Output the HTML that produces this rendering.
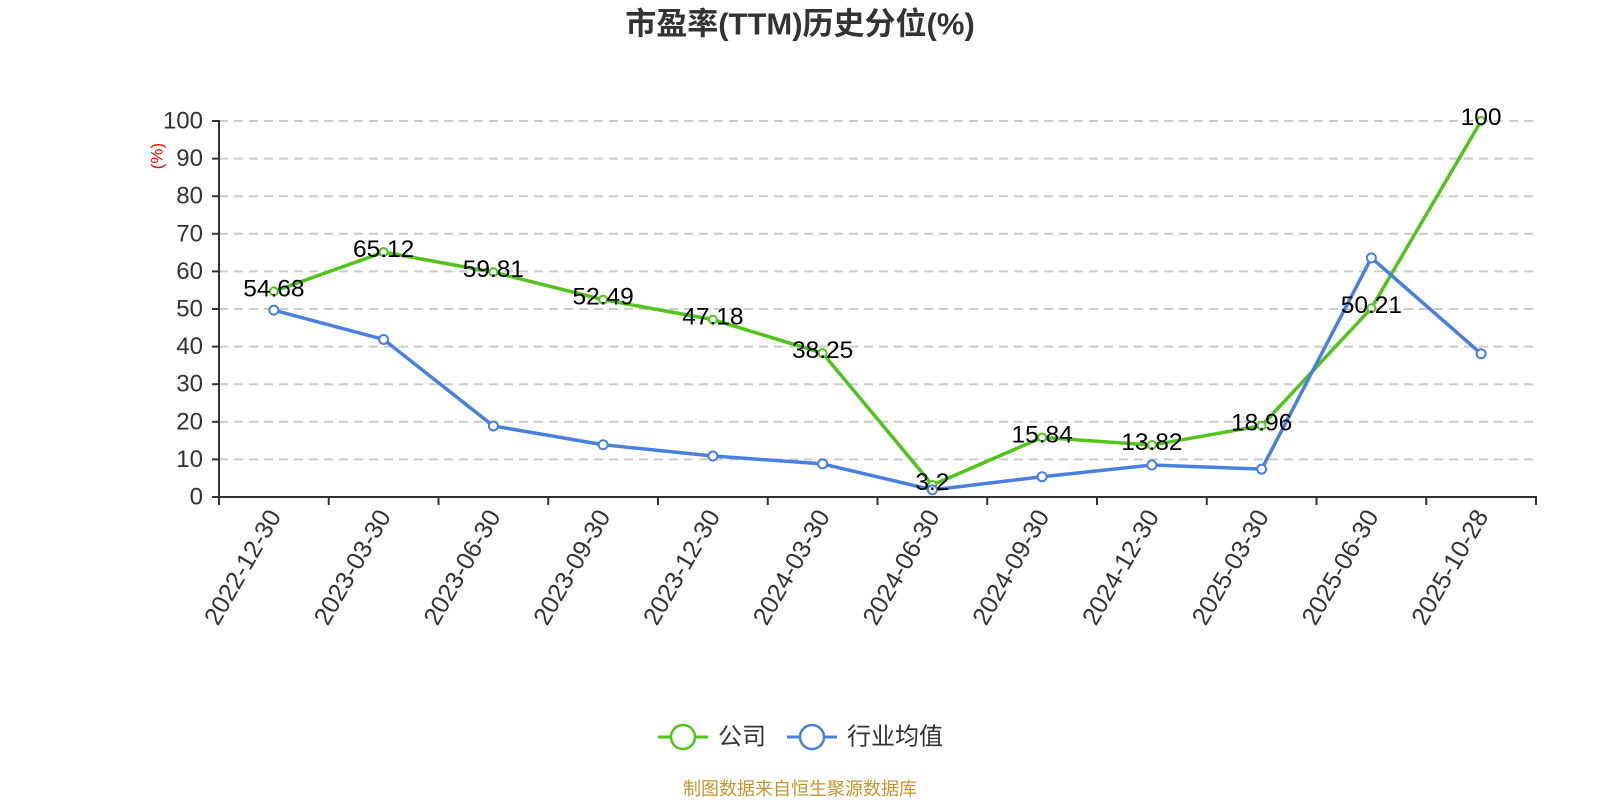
<!DOCTYPE html>
<html>
<head>
<meta charset="utf-8">
<style>
html,body{margin:0;padding:0;background:#fff;}
svg{display:block;}
text{font-family:"Liberation Sans","Noto Sans CJK SC",sans-serif;}
</style>
</head>
<body>
<svg width="1600" height="800" viewBox="0 0 1600 800" xmlns="http://www.w3.org/2000/svg">
  <rect width="1600" height="800" fill="#fff"/>
  <!-- title -->
  <text x="800" y="24" font-size="31" font-weight="bold" fill="#333" text-anchor="middle" dominant-baseline="central">市盈率(TTM)历史分位(%)</text>

  <!-- gridlines -->
  <g stroke="#ccc" stroke-width="2" stroke-dasharray="9,6">
    <line x1="219" y1="459.4" x2="1536" y2="459.4"/>
    <line x1="219" y1="421.8" x2="1536" y2="421.8"/>
    <line x1="219" y1="384.2" x2="1536" y2="384.2"/>
    <line x1="219" y1="346.6" x2="1536" y2="346.6"/>
    <line x1="219" y1="309" x2="1536" y2="309"/>
    <line x1="219" y1="271.4" x2="1536" y2="271.4"/>
    <line x1="219" y1="233.8" x2="1536" y2="233.8"/>
    <line x1="219" y1="196.2" x2="1536" y2="196.2"/>
    <line x1="219" y1="158.6" x2="1536" y2="158.6"/>
    <line x1="219" y1="121" x2="1536" y2="121"/>
  </g>

  <!-- y axis -->
  <g stroke="#333" stroke-width="2">
    <line x1="219" y1="120" x2="219" y2="498"/>
    <line x1="212" y1="497" x2="219" y2="497"/>
    <line x1="212" y1="459.4" x2="219" y2="459.4"/>
    <line x1="212" y1="421.8" x2="219" y2="421.8"/>
    <line x1="212" y1="384.2" x2="219" y2="384.2"/>
    <line x1="212" y1="346.6" x2="219" y2="346.6"/>
    <line x1="212" y1="309" x2="219" y2="309"/>
    <line x1="212" y1="271.4" x2="219" y2="271.4"/>
    <line x1="212" y1="233.8" x2="219" y2="233.8"/>
    <line x1="212" y1="196.2" x2="219" y2="196.2"/>
    <line x1="212" y1="158.6" x2="219" y2="158.6"/>
    <line x1="212" y1="121" x2="219" y2="121"/>
  </g>
  <g font-size="24" fill="#333" text-anchor="end" dominant-baseline="central">
    <text x="203" y="497">0</text>
    <text x="203" y="459.4">10</text>
    <text x="203" y="421.8">20</text>
    <text x="203" y="384.2">30</text>
    <text x="203" y="346.6">40</text>
    <text x="203" y="309">50</text>
    <text x="203" y="271.4">60</text>
    <text x="203" y="233.8">70</text>
    <text x="203" y="196.2">80</text>
    <text x="203" y="158.6">90</text>
    <text x="203" y="121">100</text>
  </g>
  <text x="157" y="156" font-size="17" fill="#f00" text-anchor="middle" dominant-baseline="central" transform="rotate(-90 157 156)">(%)</text>

  <!-- x axis -->
  <g stroke="#333" stroke-width="2">
    <line x1="218" y1="497" x2="1537" y2="497"/>
    <line x1="219" y1="497" x2="219" y2="505"/>
    <line x1="328.75" y1="497" x2="328.75" y2="505"/>
    <line x1="438.5" y1="497" x2="438.5" y2="505"/>
    <line x1="548.25" y1="497" x2="548.25" y2="505"/>
    <line x1="658" y1="497" x2="658" y2="505"/>
    <line x1="767.75" y1="497" x2="767.75" y2="505"/>
    <line x1="877.5" y1="497" x2="877.5" y2="505"/>
    <line x1="987.25" y1="497" x2="987.25" y2="505"/>
    <line x1="1097" y1="497" x2="1097" y2="505"/>
    <line x1="1206.75" y1="497" x2="1206.75" y2="505"/>
    <line x1="1316.5" y1="497" x2="1316.5" y2="505"/>
    <line x1="1426.25" y1="497" x2="1426.25" y2="505"/>
    <line x1="1536" y1="497" x2="1536" y2="505"/>
  </g>
  <g font-size="25" fill="#333" text-anchor="end" dominant-baseline="central">
    <text x="274.88" y="512" transform="rotate(-60 274.88 512)">2022-12-30</text>
    <text x="384.63" y="512" transform="rotate(-60 384.63 512)">2023-03-30</text>
    <text x="494.38" y="512" transform="rotate(-60 494.38 512)">2023-06-30</text>
    <text x="604.13" y="512" transform="rotate(-60 604.13 512)">2023-09-30</text>
    <text x="713.88" y="512" transform="rotate(-60 713.88 512)">2023-12-30</text>
    <text x="823.63" y="512" transform="rotate(-60 823.63 512)">2024-03-30</text>
    <text x="933.38" y="512" transform="rotate(-60 933.38 512)">2024-06-30</text>
    <text x="1043.13" y="512" transform="rotate(-60 1043.13 512)">2024-09-30</text>
    <text x="1152.88" y="512" transform="rotate(-60 1152.88 512)">2024-12-30</text>
    <text x="1262.63" y="512" transform="rotate(-60 1262.63 512)">2025-03-30</text>
    <text x="1372.38" y="512" transform="rotate(-60 1372.38 512)">2025-06-30</text>
    <text x="1482.13" y="512" transform="rotate(-60 1482.13 512)">2025-10-28</text>
  </g>

  <!-- green series -->
  <polyline fill="none" stroke="#52c41a" stroke-width="3.5" stroke-linejoin="round"
    points="273.88,291.4 383.63,252.15 493.38,272.11 603.13,299.64 712.88,319.6 822.63,353.18 932.38,484.97 1042.13,437.44 1151.88,445.04 1261.63,425.71 1371.38,308.21 1481.13,121"/>
  <g fill="#fff" stroke="#52c41a" stroke-width="2">
    <circle cx="273.88" cy="291.4" r="4"/>
    <circle cx="383.63" cy="252.15" r="4"/>
    <circle cx="493.38" cy="272.11" r="4"/>
    <circle cx="603.13" cy="299.64" r="4"/>
    <circle cx="712.88" cy="319.6" r="4"/>
    <circle cx="822.63" cy="353.18" r="4"/>
    <circle cx="932.38" cy="484.97" r="4"/>
    <circle cx="1042.13" cy="437.44" r="4"/>
    <circle cx="1151.88" cy="445.04" r="4"/>
    <circle cx="1261.63" cy="425.71" r="4"/>
    <circle cx="1371.38" cy="308.21" r="4"/>
    <circle cx="1481.13" cy="121" r="4"/>
  </g>

  <!-- blue series -->
  <polyline fill="none" stroke="#4a80e0" stroke-width="3.5" stroke-linejoin="round"
    points="273.88,310.13 383.63,339.46 493.38,425.94 603.13,444.74 712.88,456.02 822.63,463.91 932.38,489.86 1042.13,476.7 1151.88,465.04 1261.63,469.18 1371.38,257.86 1481.13,353.74"/>
  <g fill="#fff" stroke="#4a80e0" stroke-width="2">
    <circle cx="273.88" cy="310.13" r="4.5"/>
    <circle cx="383.63" cy="339.46" r="4.5"/>
    <circle cx="493.38" cy="425.94" r="4.5"/>
    <circle cx="603.13" cy="444.74" r="4.5"/>
    <circle cx="712.88" cy="456.02" r="4.5"/>
    <circle cx="822.63" cy="463.91" r="4.5"/>
    <circle cx="932.38" cy="489.86" r="4.5"/>
    <circle cx="1042.13" cy="476.7" r="4.5"/>
    <circle cx="1151.88" cy="465.04" r="4.5"/>
    <circle cx="1261.63" cy="469.18" r="4.5"/>
    <circle cx="1371.38" cy="257.86" r="4.5"/>
    <circle cx="1481.13" cy="353.74" r="4.5"/>
  </g>

  <!-- data labels -->
  <g font-size="24.5" fill="#000" text-anchor="middle" dominant-baseline="central">
    <text x="273.88" y="289">54.68</text>
    <text x="383.63" y="249.5">65.12</text>
    <text x="493.38" y="269.5">59.81</text>
    <text x="603.13" y="297">52.49</text>
    <text x="712.88" y="317">47.18</text>
    <text x="822.63" y="350.5">38.25</text>
    <text x="932.38" y="482.5">3.2</text>
    <text x="1042.13" y="435">15.84</text>
    <text x="1151.88" y="442.5">13.82</text>
    <text x="1261.63" y="423">18.96</text>
    <text x="1371.38" y="305.5">50.21</text>
    <text x="1481.13" y="117.5">100</text>
  </g>

  <!-- legend -->
  <line x1="658" y1="737" x2="708" y2="737" stroke="#52c41a" stroke-width="3"/>
  <circle cx="683" cy="737" r="12" fill="#fff" stroke="#52c41a" stroke-width="2.5"/>
  <text x="718" y="737" font-size="24" fill="#333" dominant-baseline="central">公司</text>
  <line x1="787" y1="737" x2="837" y2="737" stroke="#4a80e0" stroke-width="3"/>
  <circle cx="812" cy="737" r="12" fill="#fff" stroke="#4a80e0" stroke-width="2.5"/>
  <text x="847" y="737" font-size="24" fill="#333" dominant-baseline="central">行业均值</text>

  <!-- footer -->
  <text x="800" y="789" font-size="18" fill="#c8952e" text-anchor="middle" dominant-baseline="central">制图数据来自恒生聚源数据库</text>
</svg>
</body>
</html>
